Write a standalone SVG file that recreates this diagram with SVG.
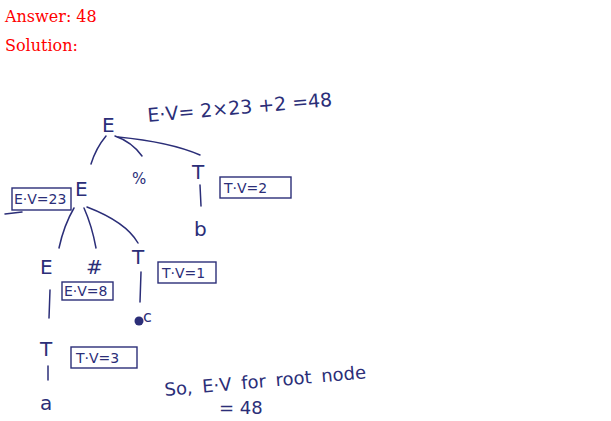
<svg xmlns="http://www.w3.org/2000/svg" width="611" height="421" viewBox="0 0 611 421">
<style>
.hdr{font-family:"DejaVu Serif","Liberation Serif",serif;font-size:16px;fill:#ff0000}
.ink{font-family:"DejaVu Sans","Noto Sans",sans-serif;fill:#2b2e78}
.sym{font-size:20px}
.lbl{font-size:14px}
.note{font-size:19px}
.edge{fill:none;stroke:#2b2e78;stroke-width:1.5;stroke-linecap:round}
.box{fill:none;stroke:#2b2e78;stroke-width:1.4}
</style>
<rect width="611" height="421" fill="#ffffff"/>
<text class="hdr" x="5" y="22">Answer: 48</text>
<text class="hdr" x="5" y="51">Solution:</text>

<g id="connectors">
<path class="edge" d="M106,136 Q96,148 91,164"/>
<path class="edge" d="M115,136 Q132,142 142,156"/>
<path class="edge" d="M118,137 Q170,142 200,155"/>
<path class="edge" d="M200,185 L201,206"/>
<path class="edge" d="M74,208 Q64,225 59,248"/>
<path class="edge" d="M84,208 Q92,226 96,248"/>
<path class="edge" d="M87,207 Q126,222 138,243"/>
<path class="edge" d="M141,272 L140,302"/>
<path class="edge" d="M50,290 L49,318"/>
<path class="edge" d="M48,366 L48,380"/>
<path class="edge" d="M5,214 L22,212"/>
</g>

<g id="root-E"><text class="ink sym" x="102" y="132">E</text></g>
<g id="root-eq"><text class="ink note" x="148" y="122" transform="rotate(-5 148 122)">E·V= 2×23 +2 =48</text></g>
<g id="percent"><text class="ink" x="132" y="184" style="font-size:15px">%</text></g>
<g id="T1"><text class="ink sym" x="192" y="179">T</text></g>
<g id="b"><text class="ink sym" x="194" y="236">b</text></g>
<g id="box-T2"><rect class="box" x="220" y="177" width="71" height="21"/><text class="ink lbl" x="224" y="193">T·V=2</text></g>

<g id="E1"><text class="ink sym" x="75" y="196">E</text></g>
<g id="box-E23"><rect class="box" x="12" y="188" width="59" height="22"/><text class="ink lbl" x="14" y="204">E·V=23</text></g>

<g id="E2"><text class="ink sym" x="40" y="274">E</text></g>
<g id="hash"><text class="ink sym" x="86" y="274">#</text></g>
<g id="T2"><text class="ink sym" x="132" y="264">T</text></g>
<g id="c"><circle cx="139" cy="321" r="4.5" fill="#2b2e78"/><text class="ink" x="143" y="322" style="font-size:16px">c</text></g>
<g id="box-T1"><rect class="box" x="158" y="262" width="58" height="21"/><text class="ink lbl" x="162" y="278">T·V=1</text></g>
<g id="box-E8"><rect class="box" x="62" y="282" width="51" height="18"/><text class="ink lbl" x="64" y="296">E·V=8</text></g>

<g id="T3"><text class="ink sym" x="40" y="356">T</text></g>
<g id="a"><text class="ink sym" x="40" y="410">a</text></g>
<g id="box-T3"><rect class="box" x="71" y="347" width="66" height="21"/><text class="ink lbl" x="76" y="363">T·V=3</text></g>

<g id="note"><text class="ink" x="165" y="396" transform="rotate(-5 165 396)" style="font-size:18px;word-spacing:4px">So, E·V for root node</text>
<text class="ink" x="219" y="414" style="font-size:18px">= 48</text></g>
</svg>
